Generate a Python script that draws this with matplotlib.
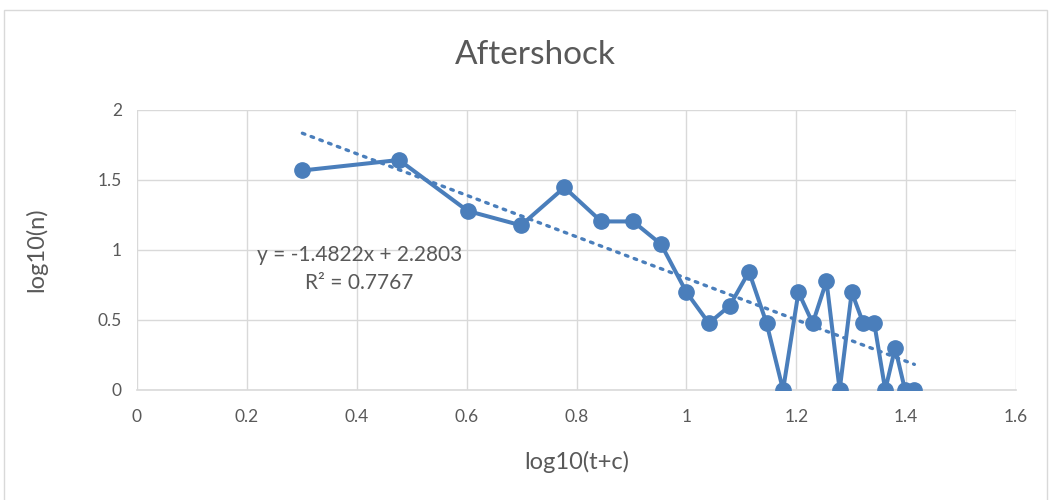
import numpy as np
import matplotlib
matplotlib.use('Agg')
import matplotlib.pyplot as plt
from matplotlib.patches import Rectangle

# data
x_vals = [0.301, 0.477, 0.602, 0.699, 0.778, 0.845, 0.903, 0.954, 1.000,
          1.041, 1.079, 1.114, 1.146, 1.176, 1.204, 1.230, 1.255, 1.279,
          1.301, 1.322, 1.342, 1.362, 1.380, 1.398, 1.415]
y_vals = [1.568, 1.643, 1.279, 1.176, 1.447, 1.204, 1.204, 1.041, 0.699,
          0.477, 0.602, 0.845, 0.477, 0.000, 0.699, 0.477, 0.778, 0.000,
          0.699, 0.477, 0.477, 0.000, 0.301, 0.000, 0.000]
slope = -1.4822
intercept = 2.2803
r_squared = 0.7767

x_ticks = [0, 0.2, 0.4, 0.6, 0.8, 1, 1.2, 1.4, 1.6]
y_ticks = [0, 0.5, 1, 1.5, 2]

blue = '#4a7ebb'
grid_c = '#d9d9d9'
text_c = '#595959'

plt.rcParams['font.family'] = ['Lato', 'DejaVu Sans']

fig = plt.figure(figsize=(10.51, 5.0), dpi=100)
# outer chart border
fig.patches.append(Rectangle((4 / 1051, -0.01), 1043 / 1051, 1 - 10 / 500 + 0.01,
                             transform=fig.transFigure, fill=False,
                             edgecolor=grid_c, linewidth=1.0))

ax = fig.add_axes([137 / 1051, 0.22, (1016 - 137) / 1051, 0.56])

ax.plot(x_vals, y_vals, '-o', color=blue, linewidth=2.9, markersize=11, zorder=3)

# linear trendline
xt = np.linspace(min(x_vals), max(x_vals), 50)
ax.plot(xt, slope * xt + intercept, linestyle=(0, (0.8, 2.0)), color=blue,
        linewidth=2.4, dash_capstyle='round', zorder=2)

ax.text(0.405, 0.965, f'y = {slope}x + {intercept}', ha='center', va='center',
        fontsize=15, color=text_c)
ax.text(0.405, 0.765, f'R² = {r_squared}', ha='center', va='center',
        fontsize=15, color=text_c)

ax.set_xlim(0, 1.6)
ax.set_ylim(0, 2)
ax.set_xticks(x_ticks)
ax.set_yticks(y_ticks)
ax.set_xticklabels([f'{v:g}' for v in x_ticks])
ax.set_yticklabels([f'{v:g}' for v in y_ticks])
ax.tick_params(length=0, labelsize=12.5, colors=text_c)
ax.tick_params(axis='x', pad=14)
ax.tick_params(axis='y', pad=11)
ax.grid(True, color=grid_c, linewidth=1.0)
ax.set_axisbelow(True)
for s in ['top', 'right', 'left']:
    ax.spines[s].set_visible(False)
ax.spines['bottom'].set_color(grid_c)
ax.spines['bottom'].set_linewidth(1.2)

ax.set_xlabel('log10(t+c)', fontsize=17, color=text_c, va='center')
ax.xaxis.set_label_coords(0.5, (390 - 462) / 280)
ax.set_ylabel('log10(n)', fontsize=17, color=text_c, va='center')
ax.yaxis.set_label_coords((36 - 137) / 879, 0.5)

fig.text(535 / 1051, 1 - 55 / 500, 'Aftershock', ha='center', va='center',
         fontsize=24, color=text_c)

fig.savefig('out.png', dpi=100)
